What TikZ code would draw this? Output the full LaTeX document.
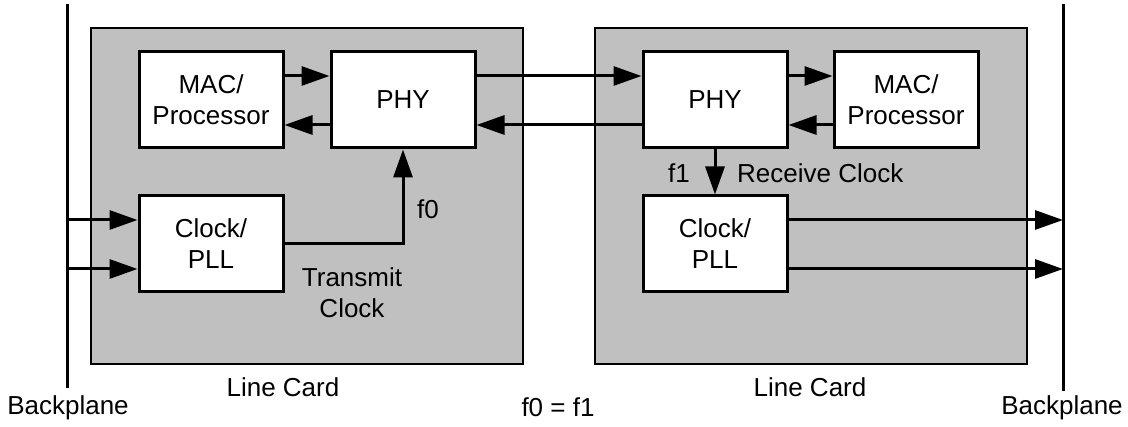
\documentclass[tikz,border=0pt]{standalone}
\usepackage{fontspec}
\setmainfont{Liberation Sans}
\usetikzlibrary{arrows.meta}
\definecolor{cardgray}{HTML}{C0C0C0}
\begin{document}
\begin{tikzpicture}[x=1pt,y=-1pt,
  every node/.style={font=\fontsize{26}{31}\selectfont},
  card/.style={draw=black,line width=2pt,fill=cardgray},
  blockbox/.style={draw=black,line width=3pt,fill=white,minimum width=144pt,minimum height=96pt,inner sep=0pt,align=center},
  arr/.style={line width=3pt,-{Triangle[length=28pt,width=19pt]}},
  bpline/.style={line width=3pt},
  lbl/.style={inner sep=0pt}]
\useasboundingbox (0,0) rectangle (1128,427);
% line cards
\draw[card] (91,28) rectangle (523,364);
\draw[card] (595,28) rectangle (1027,364);
% backplanes
\coordinate (bpLt) at (67,4);
\coordinate (bpLb) at (67,388);
\coordinate (bpRt) at (1063,4);
\coordinate (bpRb) at (1063,391);
\draw[bpline] (bpLt) -- (bpLb);
\draw[bpline] (bpRt) -- (bpRb);
% blocks
\node[blockbox] (macL) at (211,100) {MAC/\\Processor};
\node[blockbox] (phyL) at (403,100) {PHY};
\node[blockbox] (phyR) at (715,100) {PHY};
\node[blockbox] (macR) at (906,100) {MAC/\\Processor};
\node[blockbox] (clkL) at (211,244) {Clock/\\PLL};
\node[blockbox] (clkR) at (715,244) {Clock/\\PLL};
% data connectors
\draw[arr] ([yshift=24pt]macL.east) -- ([yshift=24pt]phyL.west);
\draw[arr] ([yshift=-25pt]phyL.west) -- ([yshift=-25pt]macL.east);
\draw[arr] ([yshift=24pt]phyL.east) -- ([yshift=24pt]phyR.west);
\draw[arr] ([yshift=-25pt]phyR.west) -- ([yshift=-25pt]phyL.east);
\draw[arr] ([yshift=24pt]phyR.east) -- ([yshift=24pt]macR.west);
\draw[arr] ([yshift=-25pt]macR.west) -- ([yshift=-25pt]phyR.east);
% clock connectors
\coordinate (inA) at (67,220);
\coordinate (inB) at (67,269);
\draw[arr] (inA) -- (inA -| clkL.west);
\draw[arr] (inB) -- (inB -| clkL.west);
\draw[arr] (clkL.east) -| (phyL.south);
\draw[arr] (phyR.south) -- (clkR.north);
\coordinate (outA) at (1063,220);
\coordinate (outB) at (1063,269);
\draw[arr] (outA -| clkR.east) -- (outA);
\draw[arr] (outB -| clkR.east) -- (outB);
% labels
\node[lbl,anchor=base west] (f0) at (417,219) {f0};
\node[lbl,align=center] (tx) at (352,293) {Transmit\\Clock};
\node[lbl,anchor=base west] (f1) at (668,183) {f1};
\node[lbl,anchor=base west] (rx) at (737,183) {Receive Clock};
\node[lbl,anchor=base] (lcL) at (283,397) {Line Card};
\node[lbl,anchor=base] (lcR) at (810,397) {Line Card};
\node[lbl,anchor=base] (bpL) at (68,415) {Backplane};
\node[lbl,anchor=base] (bpR) at (1062,415) {Backplane};
\node[lbl,anchor=base] (eq) at (558,417) {f0 = f1};
\end{tikzpicture}
\end{document}
